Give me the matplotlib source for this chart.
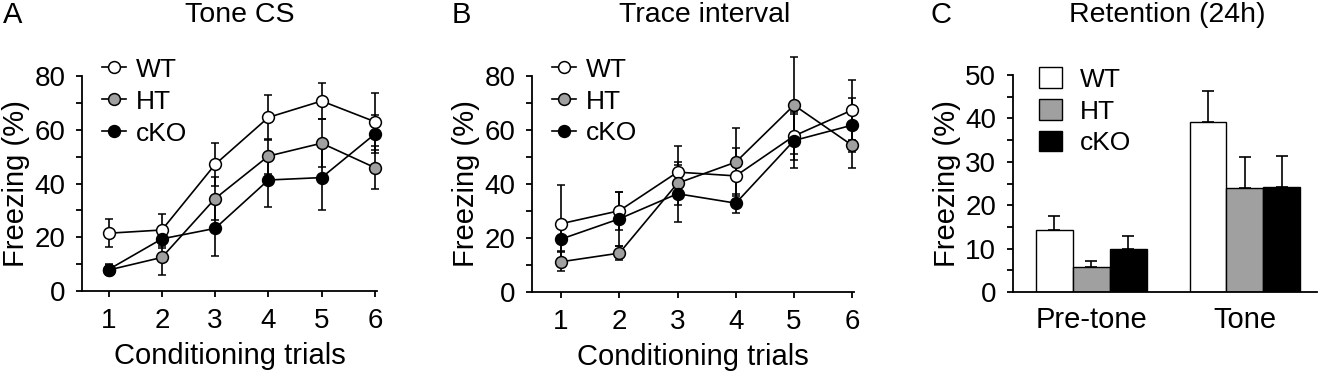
import matplotlib
matplotlib.use("Agg")
import matplotlib.pyplot as plt

plt.rcParams['font.family'] = ['Liberation Sans', 'DejaVu Sans']

trials = [1, 2, 3, 4, 5, 6]
groups = ["WT", "HT", "cKO"]
colors = ["white", "#a0a0a0", "black"]

# Panel A: tone CS
tone_wt = [21.5, 22.7, 47.1, 64.6, 70.7, 63.0]
tone_ht = [7.8, 12.5, 34.4, 50.2, 55.0, 45.9]
tone_cko = [8.0, 19.4, 23.3, 41.3, 42.2, 58.4]
tone_wt_err = [5.3, 5.8, 8.0, 8.5, 6.6, 10.5]
tone_ht_err = [2.0, 6.5, 8.0, 6.5, 9.0, 8.0]
tone_cko_err = [2.0, 3.5, 10.3, 10.0, 12.0, 7.0]

# Panel B: trace interval
trace_wt = [25.3, 30.1, 44.4, 43.0, 57.8, 67.4]
trace_ht = [11.2, 14.4, 40.3, 48.1, 69.2, 54.3]
trace_cko = [19.6, 27.1, 36.4, 32.9, 56.1, 61.8]
trace_wt_err = [14.4, 7.0, 9.7, 10.5, 9.0, 11.0]
trace_ht_err = [3.5, 2.5, 8.0, 12.6, 18.0, 8.4]
trace_cko_err = [4.5, 10.0, 10.6, 3.5, 10.0, 10.0]

# Panel C: retention
phases = ["Pre-tone", "Tone"]
ret_wt = [14.3, 39.1]
ret_ht = [5.8, 24.0]
ret_cko = [9.8, 24.3]
ret_wt_err = [3.1, 7.1]
ret_ht_err = [1.3, 7.2]
ret_cko_err = [3.0, 7.0]

fig = plt.figure(figsize=(13.2, 3.75), dpi=100)
W, H = 1320.0, 375.0


def axes_px(left, right, top, bottom):
    return fig.add_axes([left / W, 1 - bottom / H, (right - left) / W, (bottom - top) / H])


def style(ax):
    for s in ['top', 'right']:
        ax.spines[s].set_visible(False)
    for s in ['left', 'bottom']:
        ax.spines[s].set_linewidth(1.3)
    ax.tick_params(direction='out', length=4, width=1.3, labelsize=20, pad=8)
    ax.tick_params(which='minor', direction='out', length=4, width=1.3)


def line_panel(ax, series, errs, xmax, leg_x):
    for ys, es, c, g in zip(series, errs, colors, groups):
        ax.errorbar(trials, ys, yerr=es, color='black', lw=1.2, elinewidth=1.2,
                    capsize=3, capthick=1.2, marker='o', ms=8.5, mfc=c, mec='black',
                    mew=1.1, label=g, clip_on=False, zorder=3)
    ax.set_xlim(0.5, xmax)
    ax.set_ylim(0, 80)
    ax.set_xticks(trials)
    ax.set_yticks([0, 20, 40, 60, 80])
    ax.set_yticks([10, 30, 50, 70], minor=True)
    ax.set_xlabel("Conditioning trials", fontsize=21, labelpad=6)
    ax.set_ylabel("Freezing (%)", fontsize=21, labelpad=3)
    style(ax)
    handles, labels = ax.get_legend_handles_labels()
    handles = [h[0] for h in handles]
    ax.legend(handles, labels, loc='upper left', bbox_to_anchor=(leg_x, 1.085),
              frameon=False, fontsize=19, handlelength=0.9, handletextpad=0.4,
              labelspacing=0.3, borderaxespad=0, borderpad=0)


axA = axes_px(82, 377, 76, 291)
line_panel(axA, [tone_wt, tone_ht, tone_cko], [tone_wt_err, tone_ht_err, tone_cko_err], 6.04, 0.068)

axB = axes_px(532, 854, 76, 292)
line_panel(axB, [trace_wt, trace_ht, trace_cko], [trace_wt_err, trace_ht_err, trace_cko_err], 6.03, 0.062)

axC = axes_px(1013, 1317, 75, 292)
width = 0.24
xs = [0, 1]
for k, (vals, es, c, g) in enumerate(zip([ret_wt, ret_ht, ret_cko],
                                          [ret_wt_err, ret_ht_err, ret_cko_err],
                                          colors, groups)):
    pos = [x + (k - 1) * width for x in xs]
    axC.bar(pos, vals, width=width, color=c, edgecolor='black', lw=1.0, label=g, zorder=2)
    axC.errorbar(pos, vals, yerr=[[0, 0], es], fmt='none', ecolor='black',
                 elinewidth=1.2, capsize=4, capthick=1.2, zorder=1)
axC.set_xlim(-0.51, 1.47)
axC.set_ylim(0, 50)
axC.set_xticks(xs)
axC.set_xticklabels(phases)
axC.set_yticks([0, 10, 20, 30, 40, 50])
axC.set_yticks([5, 15, 25, 35, 45], minor=True)
axC.set_ylabel("Freezing (%)", fontsize=21, labelpad=3)
style(axC)
axC.tick_params(axis='x', length=0, pad=10, labelsize=21)
axC.legend(loc='upper left', bbox_to_anchor=(0.086, 1.035), frameon=False, fontsize=19,
           handlelength=0.87, handleheight=0.83, handletextpad=0.68, labelspacing=0.27,
           borderaxespad=0, borderpad=0)

# Panel letters and titles
fig.text(3 / W, 1 - 15 / H, "A", fontsize=21, va='center', ha='left')
fig.text(240 / W, 1 - 15 / H, "Tone CS", fontsize=20.5, va='center', ha='center')
fig.text(452 / W, 1 - 15 / H, "B", fontsize=21, va='center', ha='left')
fig.text(705 / W, 1 - 15 / H, "Trace interval", fontsize=20.5, va='center', ha='center')
fig.text(931 / W, 1 - 15 / H, "C", fontsize=21, va='center', ha='left')
fig.text(1167 / W, 1 - 15 / H, "Retention (24h)", fontsize=20.5, va='center', ha='center')

fig.savefig("out.png", dpi=100)
